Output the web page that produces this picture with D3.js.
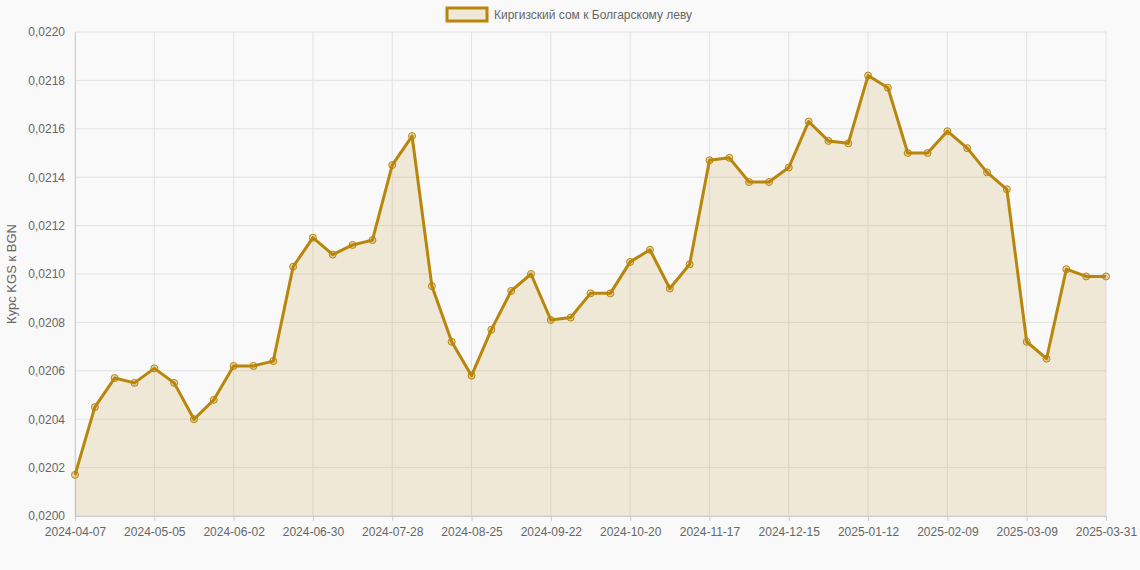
<!DOCTYPE html>
<html><head><meta charset="utf-8">
<script src="https://cdn.jsdelivr.net/npm/d3@7"></script>
<style>body{margin:0;background:#f9f9f9;font-family:"Liberation Sans",Arial,sans-serif}</style>
</head><body><svg id="c" width="1140" height="570"></svg>
<script>
const startDate = "2024-04-07";
const lastLabel = "2025-03-31";
const values = [0.02017,0.02045,0.02057,0.02055,0.02061,0.02055,0.02040,0.02048,0.02062,0.02062,0.02064,0.02103,0.02115,0.02108,0.02112,0.02114,0.02145,0.02157,0.02095,0.02072,0.02058,0.02077,0.02093,0.02100,0.02081,0.02082,0.02092,0.02092,0.02105,0.02110,0.02094,0.02104,0.02147,0.02148,0.02138,0.02138,0.02144,0.02163,0.02155,0.02154,0.02182,0.02177,0.02150,0.02150,0.02159,0.02152,0.02142,0.02135,0.02072,0.02065,0.02102,0.02099,0.02099];
const yTicks = [0.0200,0.0202,0.0204,0.0206,0.0208,0.0210,0.0212,0.0214,0.0216,0.0218,0.0220];
const seriesName = "Киргизский сом к Болгарскому леву";
const yTitle = "Курс KGS к BGN";

const fmt = d3.utcFormat("%Y-%m-%d");
const d0 = new Date(startDate+"T00:00:00Z");
const labels = values.map((v,i)=> i===values.length-1 ? lastLabel : fmt(d3.utcDay.offset(d0,7*i)));

const svg = d3.select("#c");
const L=75,R=1106,T=32,B=516;
const x = d3.scalePoint().domain(labels).range([L,R]);
const y = d3.scaleLinear().domain([0.0200,0.0220]).range([B,T]);
const tickLabels = labels.filter((d,i)=> i%4===0 || i===labels.length-1);
const col="#b8860b";

const g=svg.append("g");
g.selectAll(".hy").data(yTicks).join("line").attr("x1",L).attr("x2",R).attr("y1",d=>y(d)).attr("y2",d=>y(d)).attr("stroke","#e2e2e2");
g.selectAll(".vx").data(tickLabels).join("line").attr("x1",d=>x(d)).attr("x2",d=>x(d)).attr("y1",T).attr("y2",B).attr("stroke","#e2e2e2");

const yAx = svg.append("g").attr("transform",`translate(${L},0)`).call(d3.axisLeft(y).tickValues(yTicks).tickSize(0).tickPadding(10).tickFormat(d=>d.toFixed(4).replace(".",",")));
yAx.select(".domain").attr("stroke","#ccc");
const xAx = svg.append("g").attr("transform",`translate(0,${B})`).call(d3.axisBottom(x).tickValues(tickLabels).tickSize(5).tickPadding(6));
xAx.select(".domain").attr("stroke","#ccc");
xAx.selectAll(".tick line").attr("stroke","#ccc");
svg.selectAll(".tick text").attr("fill","#666").attr("font-size",12).attr("font-family","Liberation Sans, Arial, sans-serif");

svg.append("path").datum(values).attr("fill","rgba(184,134,11,0.15)")
 .attr("d",d3.area().x((d,i)=>x(labels[i])).y0(B).y1(d=>y(d)));
svg.append("path").datum(values).attr("fill","none").attr("stroke",col).attr("stroke-width",3).attr("stroke-linejoin","round")
 .attr("d",d3.line().x((d,i)=>x(labels[i])).y(d=>y(d)));
svg.selectAll(".pt").data(values).join("circle").attr("cx",(d,i)=>x(labels[i])).attr("cy",d=>y(d)).attr("r",3.5)
 .attr("fill","rgba(184,134,11,0.3)").attr("stroke",col).attr("stroke-width",1);

svg.append("text").attr("transform","translate(16,274) rotate(-90)").attr("text-anchor","middle").attr("fill","#666").attr("font-size",13).text(yTitle);
svg.append("rect").attr("x",447).attr("y",8).attr("width",40).attr("height",13).attr("fill","rgba(184,134,11,0.15)").attr("stroke",col).attr("stroke-width",3);
svg.append("text").attr("x",494).attr("y",19).attr("fill","#666").attr("font-size",12).text(seriesName);
</script></body></html>
